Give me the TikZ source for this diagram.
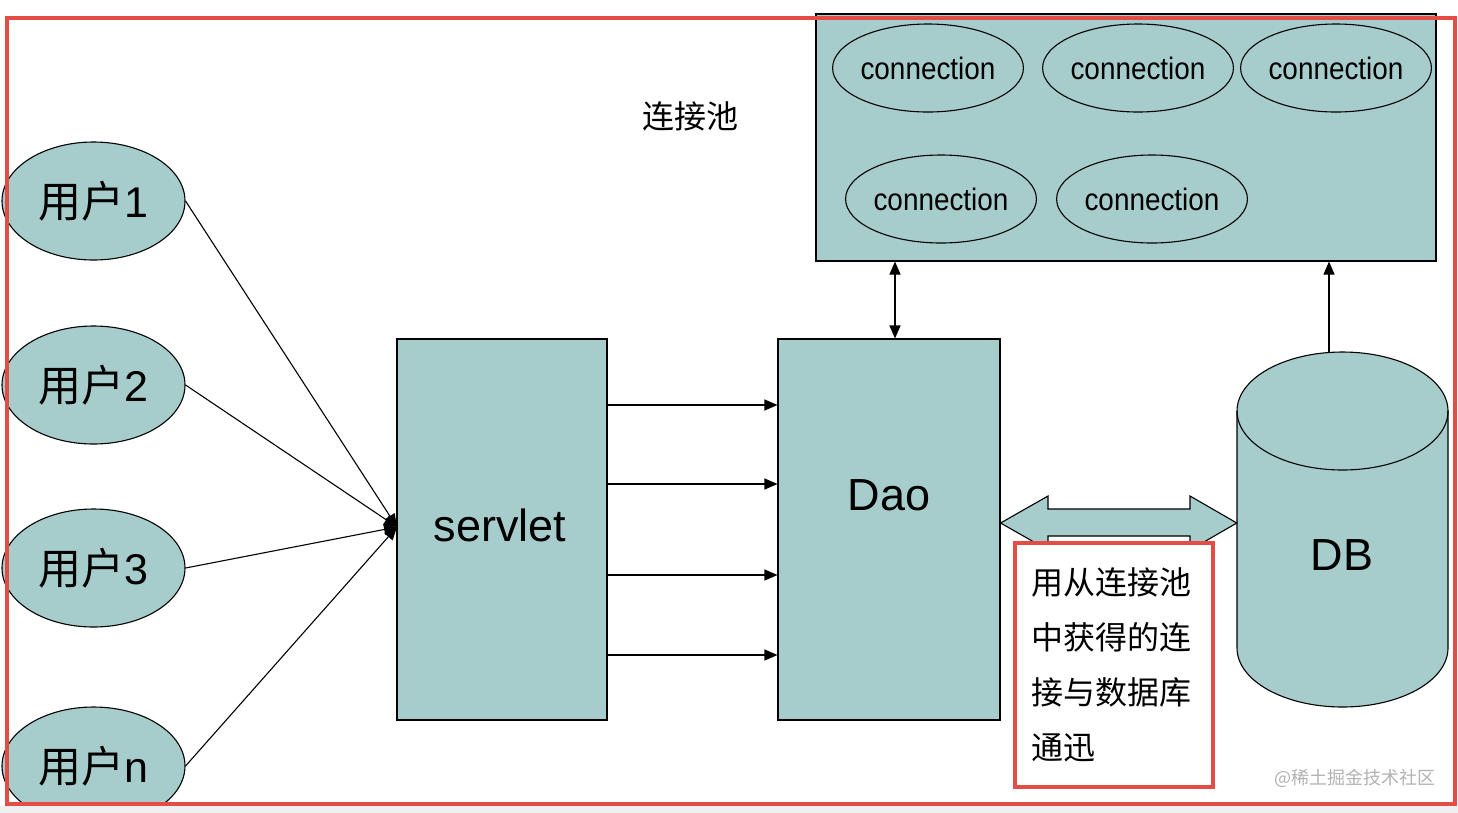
\documentclass[tikz,border=0pt]{standalone}
\usepackage{fontspec}
\setmainfont{Liberation Sans}
\newfontfamily\cjk{Noto Sans CJK SC}
\newfontfamily\narrowsans[FakeStretch=0.9]{Liberation Sans}
\usetikzlibrary{arrows.meta,shapes.geometric}
\definecolor{teal0}{RGB}{166,205,204}
\definecolor{frame}{RGB}{228,76,70}
\begin{document}
\begin{tikzpicture}[x=1pt,y=-1pt,
  user/.style={ellipse, draw, fill=teal0, line width=1.1pt, minimum width=183pt, minimum height=118pt, inner sep=0pt, font=\fontsize{43}{43}\selectfont},
  conn/.style={ellipse, draw, line width=1.1pt, minimum width=172pt, minimum height=88pt, inner sep=0pt, font=\narrowsans\fontsize{31}{31}\selectfont},
  block/.style={rectangle, draw, fill=teal0, line width=1.1pt, inner sep=0pt},
  big/.style={font=\fontsize{45}{45}\selectfont, inner sep=0pt},
  arr/.style={-{Triangle[length=13pt,width=11pt]}, line width=1.1pt},
  darr/.style={{Triangle[length=13pt,width=11pt]}-{Triangle[length=13pt,width=11pt]}, line width=1.1pt},
]
\useasboundingbox (0,0) rectangle (1458,812);
\fill[white] (0,0) rectangle (1458,812);

% users
\node[user] (u1) at (93.5,201) {{\cjk 用户}1};
\node[user] (u2) at (93.5,385) {{\cjk 用户}2};
\node[user] (u3) at (93.5,568) {{\cjk 用户}3};
\node[user] (un) at (93.5,766) {{\cjk 用户}n};

% servlet and Dao
\node[block, minimum width=210pt, minimum height=381pt] (servlet) at (502,529.5) {};
\node[big] (servlettext) at (500,525) {servlet};
\node[block, minimum width=222pt, minimum height=381pt] (dao) at (889,529.5) {};
\node[big] (daotext) at (889,495) {Dao};

\coordinate (conv) at (397,527);
\foreach \u in {u1,u2,u3,un} \draw[arr] (\u.east) -- (conv);

\foreach \yy in {405,484,575,655}
  \draw[arr] (servlet.east |- 0,\yy) -- (dao.west |- 0,\yy);

% pool
\node[block, minimum width=620pt, minimum height=247pt] (pool) at (1126,137.5) {};
\node[conn] (c1) at (928,68) {connection};
\node[conn] (c2) at (1138,68) {connection};
\node[conn] (c3) at (1336,68) {connection};
\node[conn] (c4) at (941,199) {connection};
\node[conn] (c5) at (1152,199) {connection};
\node[font=\cjk\fontsize{32}{32}\selectfont] (pooltext) at (690,116) {连接池};

% DB cylinder
\node[minimum width=211pt, minimum height=355pt, inner sep=0pt] (db) at (1342.5,529.5) {};
\path[draw, fill=teal0, line width=1.1pt] (1237,411) -- (1237,648)
  arc[start angle=180, end angle=360, x radius=105.5pt, y radius=59pt] -- (1448,411)
  arc[start angle=0, end angle=180, x radius=105.5pt, y radius=59pt] -- cycle;
\draw[line width=1.1pt] (1237,411) arc[start angle=180, end angle=360, x radius=105.5pt, y radius=59pt];
\node[big] (dbtext) at (1342,555) {DB};

\draw[darr] ([xshift=6pt]dao.north) -- ([xshift=6pt]dao.north |- pool.south);
\draw[arr] ([xshift=-13.5pt]db.north) -- ([xshift=-13.5pt]db.north |- pool.south);

% block double arrow
\draw[fill=teal0, line width=1.1pt] (dao.east |- 0,523) -- (1048,496) -- (1048,509) -- (1190,509)
  -- (1190,496) -- (db.west |- 0,523) -- (1190,550) -- (1190,536) -- (1048,536) -- (1048,550) -- cycle;

% note
\node[draw=frame, line width=4pt, fill=white, minimum width=198pt, minimum height=244pt,
  text width=166pt, inner xsep=16pt, align=left, font=\cjk\fontsize{32}{55}\selectfont]
  (note) at (1114,665) {用从连接池\\中获得的连\\接与数据库\\通迅};

\node[font=\cjk\fontsize{18}{18}\selectfont, text=black!30] (wm) at (1355,778) {@稀土掘金技术社区};

% frame
\fill[black!6] (-10,806) rectangle (1470,840);
\draw[frame, line width=4pt] (7,18) rectangle (1455,804);
\end{tikzpicture}
\end{document}
